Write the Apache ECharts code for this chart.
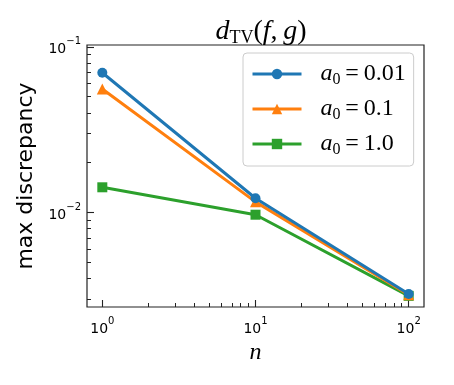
<!DOCTYPE html>
<html>
<head>
<meta charset="utf-8">
<script src="https://cdn.jsdelivr.net/npm/echarts@6/dist/echarts.min.js"></script>
<style>
  html, body { margin: 0; padding: 0; background: #fff; }
  #chart { width: 454px; height: 385px; }
</style>
</head>
<body>
<div id="chart"></div>
<script>
// data
let nValues = [1, 10, 100]
let a0Labels = ['0.01', '0.1', '1.0']
let discA001 = [0.0698, 0.0122, 0.00322]
let discA01 = [0.0557, 0.0116, 0.00319]
let discA1 = [0.0142, 0.0097, 0.00314]

// ticks
let xMajorTicks = [1, 10, 100]
let xMinorTicks = [2, 3, 4, 5, 6, 7, 8, 9, 20, 30, 40, 50, 60, 70, 80, 90]
let yMajorTicks = [0.01, 0.1]
let yMinorTicks = [0.003, 0.004, 0.005, 0.006, 0.007, 0.008, 0.009, 0.02, 0.03, 0.04, 0.05, 0.06, 0.07, 0.08, 0.09]

let colors = ['#1f77b4', '#ff7f0e', '#2ca02c']
let symbols = ['circle', 'triangle', 'rect']
let symbolSizes = [10, 11, 10]

let xMin = 0.7943, xMax = 125.9
let yMin = 0.00269, yMax = 0.1026

let gridBox = { left: 87, top: 45, right: 30, bottom: 78 }
let mathFont = "'Liberation Serif', 'DejaVu Serif', serif"

function powLabel(value) {
  let e = Math.round(Math.log10(value))
  let s = e < 0 ? '\u2212' + (-e) : '' + e
  return '{b|10}{e|' + s + '}'
}

let tickRich = {
  b: { fontSize: 14, fontFamily: 'DejaVu Sans', color: '#000', lineHeight: 20, verticalAlign: 'bottom' },
  e: { fontSize: 10, fontFamily: 'DejaVu Sans', color: '#000', lineHeight: 12, verticalAlign: 'top' }
}

function makeSeries(name, values, i) {
  return {
    name: name,
    type: 'line',
    xAxisIndex: 0,
    yAxisIndex: 0,
    data: nValues.map((n, k) => [n, values[k]]),
    symbol: symbols[i],
    symbolSize: symbolSizes[i],
    showAllSymbol: true,
    color: colors[i],
    lineStyle: { width: 3, color: colors[i] },
    itemStyle: { color: colors[i] },
    z: 2 + (2 - i)
  }
}

let chart = echarts.init(document.getElementById('chart'), null, { renderer: 'canvas' })

let option = {
  animation: false,
  backgroundColor: '#fff',
  title: {
    text: '{it|d}{sub|TV}{rm|(}{it|f}{rm|,\u2009}{it|g}{rm|)}',
    left: 256,
    textAlign: 'center',
    top: 12,
    textStyle: {
      fontWeight: 'normal',
      rich: {
        it: { fontFamily: mathFont, fontStyle: 'italic', fontWeight: 'normal', fontSize: 28, color: '#000', lineHeight: 30 },
        rm: { fontFamily: mathFont, fontWeight: 'normal', fontSize: 28, color: '#000', lineHeight: 30 },
        sub: { fontFamily: mathFont, fontWeight: 'normal', fontSize: 18, color: '#000', lineHeight: 15, verticalAlign: 'bottom' }
      }
    }
  },
  grid: [
    Object.assign({ show: true, borderColor: '#222', borderWidth: 1.2, backgroundColor: 'transparent' }, gridBox),
    Object.assign({ show: false }, gridBox)
  ],
  legend: {
    orient: 'vertical',
    left: 243,
    top: 53,
    padding: [9, 8, 8, 8],
    itemWidth: 49,
    itemHeight: 13,
    itemGap: 9,
    backgroundColor: 'rgba(255,255,255,0.8)',
    borderColor: '#cccccc',
    borderWidth: 1,
    borderRadius: 4,
    lineStyle: { width: 3 },
    data: ['a001', 'a01', 'a1'],
    formatter: function (name) {
      let idx = ['a001', 'a01', 'a1'].indexOf(name)
      return '{a|a}{s|0}{t|\u2009=\u2009' + a0Labels[idx] + '}'
    },
    textStyle: {
      padding: [0, 0, 0, 14],
      rich: {
        a: { fontFamily: mathFont, fontStyle: 'italic', fontSize: 24, color: '#000', lineHeight: 28 },
        s: { fontFamily: mathFont, fontSize: 16, color: '#000', lineHeight: 14, verticalAlign: 'bottom' },
        t: { fontFamily: mathFont, fontSize: 24, color: '#000', lineHeight: 28 }
      }
    }
  },
  xAxis: [
    {
      type: 'log',
      gridIndex: 0,
      min: xMin,
      max: xMax,
      name: 'n',
      nameLocation: 'middle',
      nameGap: 33,
      nameTextStyle: { fontFamily: mathFont, fontStyle: 'italic', fontSize: 24, color: '#000' },
      axisLine: { show: false },
      splitLine: { show: false },
      axisTick: { show: true, inside: true, length: 7, lineStyle: { color: '#222', width: 1.1 }, customValues: xMajorTicks },
      axisLabel: { margin: 9, customValues: xMajorTicks, formatter: powLabel, rich: tickRich }
    },
    {
      type: 'log',
      gridIndex: 1,
      min: xMin,
      max: xMax,
      axisLine: { show: false },
      splitLine: { show: false },
      axisTick: { show: true, inside: true, length: 4, lineStyle: { color: '#222', width: 1 }, customValues: xMinorTicks },
      axisLabel: { show: false }
    }
  ],
  yAxis: [
    {
      type: 'log',
      gridIndex: 0,
      min: yMin,
      max: yMax,
      name: 'max discrepancy',
      nameLocation: 'middle',
      nameGap: 42,
      nameTextStyle: { fontFamily: 'DejaVu Sans', fontSize: 22, color: '#000' },
      axisLine: { show: false },
      splitLine: { show: false },
      axisTick: { show: true, inside: true, length: 7, lineStyle: { color: '#222', width: 1.1 }, customValues: yMajorTicks },
      axisLabel: { margin: 6, customValues: yMajorTicks, formatter: powLabel, rich: tickRich }
    },
    {
      type: 'log',
      gridIndex: 1,
      min: yMin,
      max: yMax,
      axisLine: { show: false },
      splitLine: { show: false },
      axisTick: { show: true, inside: true, length: 4, lineStyle: { color: '#222', width: 1 }, customValues: yMinorTicks },
      axisLabel: { show: false }
    }
  ],
  series: [
    makeSeries('a001', discA001, 0),
    makeSeries('a01', discA01, 1),
    makeSeries('a1', discA1, 2)
  ]
}

chart.setOption(option)
</script>
</body>
</html>
